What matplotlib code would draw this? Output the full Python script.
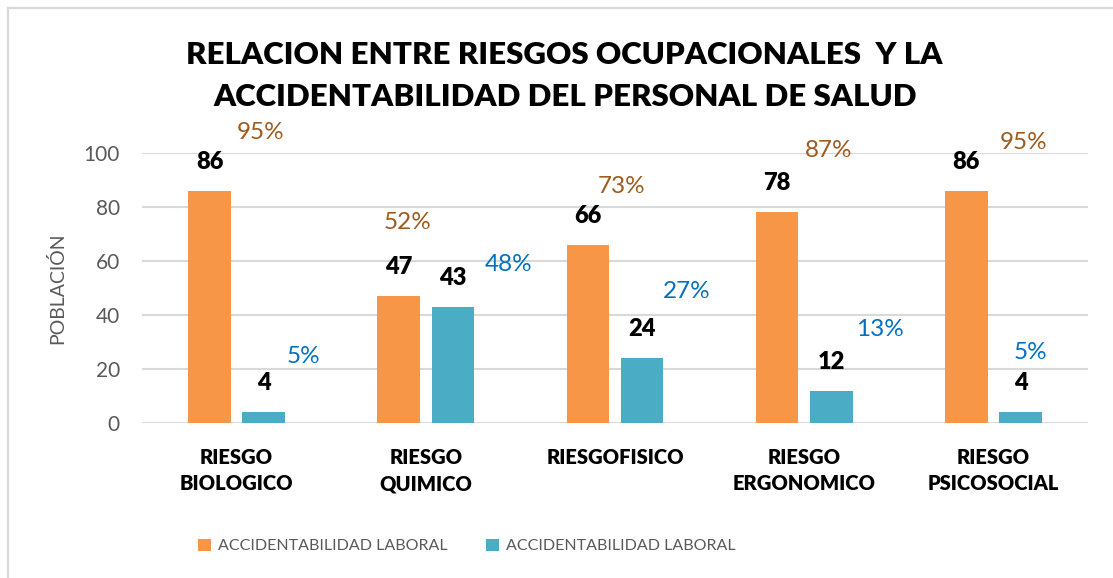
import matplotlib
matplotlib.use("Agg")
import matplotlib.pyplot as plt
from matplotlib.patches import Patch
from matplotlib.lines import Line2D
import numpy as np

# ---- data ----
categories = ["RIESGO\nBIOLOGICO", "RIESGO\nQUIMICO", "RIESGOFISICO",
              "RIESGO\nERGONOMICO", "RIESGO\nPSICOSOCIAL"]
series1_name = "ACCIDENTABILIDAD LABORAL"
series2_name = "ACCIDENTABILIDAD LABORAL"
series1 = [86, 47, 66, 78, 86]
series2 = [4, 43, 24, 12, 4]
pct1 = ["95%", "52%", "73%", "87%", "95%"]
pct2 = ["5%", "48%", "27%", "13%", "5%"]
title_lines = ["RELACION ENTRE RIESGOS OCUPACIONALES  Y LA",
               "ACCIDENTABILIDAD DEL PERSONAL DE SALUD"]
y_label = "POBLACIÓN"
y_ticks = [0, 20, 40, 60, 80, 100]

# ---- style / label placement (pixel offsets from bar tops) ----
pct1_offsets = [(51, 58), (9, 73), (34, 58), (51, 62), (57, 48)]
pct2_offsets = [(40, 56), (56, 42), (45, 67), (49, 61), (10, 60)]
c1 = "#F79646"
c2 = "#4BACC6"
pc1 = "#9E5A1F"
pc2 = "#0070C0"
grid_c = "#D9D9D9"
txt_gray = "#595959"
FONT = "Lato"
HEAVY = "heavy"

plt.rcParams["font.family"] = [FONT, "DejaVu Sans"]

W, H = 1113, 578
fig = plt.figure(figsize=(W / 100, H / 100), dpi=100)
ax = fig.add_axes([142 / W, 1 - 423 / H, (1088 - 142) / W, (423 - 152.7) / H])

x = np.arange(len(categories))
bw = 0.225
off = 0.143
ax.bar(x - off, series1, bw, color=c1, label=series1_name, zorder=3)
ax.bar(x + off, series2, bw, color=c2, label=series2_name, zorder=3)

ax.set_xlim(-0.5, len(categories) - 0.5)
ax.set_ylim(0, 100)
ax.set_yticks(y_ticks)
ax.yaxis.grid(True, color=grid_c, linewidth=1.5, zorder=0)
ax.set_axisbelow(True)
for s in ["top", "right", "left", "bottom"]:
    ax.spines[s].set_visible(False)
ax.tick_params(axis="both", length=0)
ax.tick_params(axis="y", labelsize=15, labelcolor=txt_gray, pad=16)
ax.set_xticks(x)
ax.set_xticklabels(categories, fontsize=14.5, fontweight=HEAVY, color="black",
                   linespacing=1.45, va="top")
ax.tick_params(axis="x", pad=18)
ax.set_ylabel(y_label, fontsize=14, color=txt_gray, labelpad=12)

for i in range(len(categories)):
    ax.annotate(str(series1[i]), (x[i] - off, series1[i]), xytext=(0, 29),
                textcoords="offset pixels", ha="center", va="center",
                fontsize=17, fontweight=HEAVY, color="black")
    ax.annotate(str(series2[i]), (x[i] + off, series2[i]), xytext=(0, 29),
                textcoords="offset pixels", ha="center", va="center",
                fontsize=17, fontweight=HEAVY, color="black")
    dx, dy = pct1_offsets[i]
    ax.annotate(pct1[i], (x[i] - off, series1[i]), xytext=(dx, dy),
                textcoords="offset pixels", ha="center", va="center",
                fontsize=17.5, color=pc1)
    dx, dy = pct2_offsets[i]
    ax.annotate(pct2[i], (x[i] + off, series2[i]), xytext=(dx, dy),
                textcoords="offset pixels", ha="center", va="center",
                fontsize=17.5, color=pc2)

# title
fig.text(564 / W, 1 - 55 / H, title_lines[0], ha="center", va="center",
         fontsize=22.5, fontweight=HEAVY, color="black")
fig.text(565 / W, 1 - 97 / H, title_lines[1], ha="center", va="center",
         fontsize=22.5, fontweight=HEAVY, color="black")

# legend
handles = [Patch(facecolor=c1), Patch(facecolor=c2)]
leg = fig.legend(handles, [series1_name, series2_name], loc="center",
                 bbox_to_anchor=(467 / W, 1 - 546 / H), ncol=2, frameon=False,
                 fontsize=11.5, handlelength=0.8, handleheight=0.8,
                 handletextpad=0.45, columnspacing=2.4)
for t in leg.get_texts():
    t.set_color(txt_gray)

# chart border (left & top)
fig.add_artist(Line2D([8 / W, 8 / W], [0, 1 - 8 / H], transform=fig.transFigure,
                      color=grid_c, linewidth=1.6))
fig.add_artist(Line2D([8 / W, 1], [1 - 8 / H, 1 - 8 / H], transform=fig.transFigure,
                      color=grid_c, linewidth=1.6))

fig.savefig("out.png", dpi=100, facecolor="white")
